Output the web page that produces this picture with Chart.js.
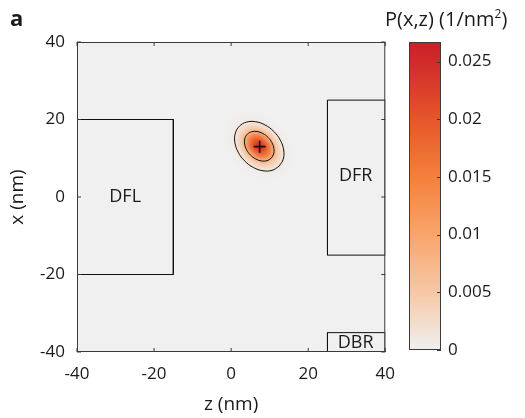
<!DOCTYPE html>
<html>
<head>
<meta charset="utf-8">
<script src="https://cdn.jsdelivr.net/npm/chart.js@4.4.0/dist/chart.umd.min.js"></script>
<style>
body { margin: 0; background: #fff; }
#wrap { position: relative; width: 525px; height: 418px; font-family: "Open Sans", sans-serif; color: #1a1a1a; }
canvas { position: absolute; top: 0; }
#panel { position: absolute; left: 10px; top: 2px; font-weight: bold; font-size: 22px; }
#cbtitle { position: absolute; left: 385px; top: 5px; font-size: 20px; white-space: nowrap; }
#cbtitle span { font-size: 12px; position: relative; top: -8px; }
</style>
</head>
<body>
<div id="wrap">
  <canvas id="main" width="407" height="418" style="left:0"></canvas>
  <canvas id="cbar" width="125" height="418" style="left:400px"></canvas>
  <div id="panel">a</div>
  <div id="cbtitle">P(x,z) (1/nm<span>2</span>)</div>
</div>
<script>
// axes
const zRange = [-40, 40];
const xRange = [-40, 40];
const cbMax = 0.0267;

// colormap
const cmapValues = [0, 0.005, 0.01, 0.015, 0.02, 0.025, 0.0267];
const cmapColors = ['#f0f0f0', '#f6c8a6', '#f8a56c', '#f4803b', '#e5562a', '#d02b29', '#ca2029'];

// density grid P(x,z), 2 nm spacing around the peak
const zGrid = [-2.7, -0.7, 1.3, 3.3, 5.3, 7.3, 9.3, 11.3, 13.3, 15.3, 17.3];
const xGrid = [23.1, 21.1, 19.1, 17.1, 15.1, 13.1, 11.1, 9.1, 7.1, 5.1, 3.1];
const density = [
  [0, 0, 0, 0, 0, 0, 0, 0, 0, 0, 0],
  [0, 0.00001, 0.00005, 0.00013, 0.00016, 0.0001, 0.00003, 0, 0, 0, 0],
  [0, 0.00005, 0.00033, 0.0010, 0.00152, 0.00115, 0.00043, 0.00008, 0, 0, 0],
  [0.00001, 0.00013, 0.0010, 0.00376, 0.0070, 0.0066, 0.00305, 0.0007, 0.00008, 0, 0],
  [0.00001, 0.00016, 0.00152, 0.0070, 0.0163, 0.0187, 0.0107, 0.00305, 0.00043, 0.00003, 0],
  [0, 0.0001, 0.00115, 0.0066, 0.0187, 0.0265, 0.0187, 0.0066, 0.00115, 0.0001, 0],
  [0, 0.00003, 0.00043, 0.00305, 0.0107, 0.0187, 0.0163, 0.0070, 0.00152, 0.00016, 0.00001],
  [0, 0, 0.00008, 0.0007, 0.00305, 0.0066, 0.0070, 0.00376, 0.0010, 0.00013, 0.00001],
  [0, 0, 0, 0.00008, 0.00043, 0.00115, 0.00152, 0.0010, 0.00033, 0.00005, 0],
  [0, 0, 0, 0, 0.00003, 0.0001, 0.00016, 0.00013, 0.00005, 0.00001, 0],
  [0, 0, 0, 0, 0, 0, 0, 0, 0, 0, 0]
];

// contour lines (z, x)
const outerZ = [12.46, 13.52, 13.63, 12.78, 11.09, 8.83, 6.33, 3.98, 2.14, 1.08, 0.97, 1.82, 3.51, 5.77, 8.27, 10.62, 12.46];
const outerX = [7.94, 9.78, 12.13, 14.63, 16.89, 18.58, 19.43, 19.32, 18.26, 16.42, 14.07, 11.57, 9.31, 7.62, 6.77, 6.88, 7.94];
const innerZ = [10.40, 11.04, 11.10, 10.59, 9.58, 8.22, 6.72, 5.30, 4.20, 3.56, 3.50, 4.01, 5.02, 6.38, 7.88, 9.30, 10.40];
const innerX = [10.00, 11.10, 12.52, 14.02, 15.38, 16.39, 16.90, 16.84, 16.20, 15.10, 13.68, 12.18, 10.82, 9.81, 9.30, 9.36, 10.00];

// mean position
const meanZ = [7.4];
const meanX = [13.0];

// regions
const regionNames = ['DFL', 'DFR', 'DBR'];
const regionZ = [[-40, -15, -15, -40], [40, 25, 25, 40], [40, 25, 25, 40]];
const regionX = [[20, 20, -20, -20], [25, 25, -15, -15], [-35, -35, -40, -40]];
const labelZ = [-27.5, 32.3, 32.3];
const labelX = [0, 5.5, -37.6];

const FONT = '"Open Sans", sans-serif';
const INK = '#1a1a1a';

function hexRgb(h) {
  return [parseInt(h.slice(1, 3), 16), parseInt(h.slice(3, 5), 16), parseInt(h.slice(5, 7), 16)];
}
function colormap(v) {
  if (v <= cmapValues[0]) return hexRgb(cmapColors[0]);
  for (let i = 1; i < cmapValues.length; i++) {
    if (v <= cmapValues[i]) {
      const t = (v - cmapValues[i - 1]) / (cmapValues[i] - cmapValues[i - 1]);
      const a = hexRgb(cmapColors[i - 1]), b = hexRgb(cmapColors[i]);
      return a.map((c, k) => Math.round(c + (b[k] - c) * t));
    }
  }
  return hexRgb(cmapColors[cmapColors.length - 1]);
}
function pairs(zs, xs) {
  return zs.map((z, i) => ({x: z, y: xs[i]}));
}

function innerTicks(ctx, scale, area, horizontal, len) {
  scale.ticks.forEach(t => {
    const p = scale.getPixelForValue(t.value);
    ctx.beginPath();
    if (horizontal) {
      ctx.moveTo(p, area.bottom); ctx.lineTo(p, area.bottom - len);
      ctx.moveTo(p, area.top); ctx.lineTo(p, area.top + len);
    } else {
      ctx.moveTo(area.left, p); ctx.lineTo(area.left + len, p);
      ctx.moveTo(area.right, p); ctx.lineTo(area.right - len, p);
    }
    ctx.stroke();
  });
}

const heatPlugin = {
  id: 'heat',
  beforeDatasetsDraw(chart) {
    const {ctx, chartArea: a, scales: {x, y}} = chart;
    ctx.save();
    ctx.fillStyle = cmapColors[0];
    ctx.fillRect(a.left, a.top, a.width, a.height);
    const off = document.createElement('canvas');
    off.width = zGrid.length;
    off.height = xGrid.length;
    const octx = off.getContext('2d');
    const img = octx.createImageData(off.width, off.height);
    for (let r = 0; r < xGrid.length; r++) {
      for (let c = 0; c < zGrid.length; c++) {
        const col = colormap(density[r][c]);
        const k = (r * off.width + c) * 4;
        img.data[k] = col[0]; img.data[k + 1] = col[1]; img.data[k + 2] = col[2]; img.data[k + 3] = 255;
      }
    }
    octx.putImageData(img, 0, 0);
    const dz = zGrid[1] - zGrid[0], dx = xGrid[0] - xGrid[1];
    const left = x.getPixelForValue(zGrid[0] - dz / 2);
    const right = x.getPixelForValue(zGrid[zGrid.length - 1] + dz / 2);
    const top = y.getPixelForValue(xGrid[0] + dx / 2);
    const bottom = y.getPixelForValue(xGrid[xGrid.length - 1] - dx / 2);
    ctx.beginPath();
    ctx.rect(a.left, a.top, a.width, a.height);
    ctx.clip();
    ctx.imageSmoothingEnabled = true;
    ctx.imageSmoothingQuality = 'high';
    ctx.drawImage(off, left, top, right - left, bottom - top);
    ctx.restore();
  },
  afterDatasetsDraw(chart) {
    const {ctx, chartArea: a, scales: {x, y}} = chart;
    ctx.save();
    ctx.fillStyle = INK;
    ctx.font = '18px ' + FONT;
    ctx.textAlign = 'center';
    ctx.textBaseline = 'middle';
    regionNames.forEach((n, i) => {
      ctx.fillText(n, x.getPixelForValue(labelZ[i]), y.getPixelForValue(labelX[i]));
    });
    ctx.strokeStyle = '#3a3a3a';
    ctx.lineWidth = 1;
    ctx.strokeRect(a.left + 0.5, a.top + 0.5, a.width - 1, a.height - 1);
    innerTicks(ctx, x, a, true, 4);
    innerTicks(ctx, y, a, false, 4);
    ctx.restore();
  }
};

const lineDs = (data, extra) => Object.assign({
  data: data,
  showLine: true,
  borderColor: '#111',
  borderWidth: 1,
  pointRadius: 0,
  fill: false
}, extra || {});

const datasets = regionNames.map((n, i) => lineDs(pairs(regionZ[i].concat(regionZ[i][0]), regionX[i].concat(regionX[i][0]))));
datasets.push(lineDs(pairs(outerZ, outerX), {tension: 0.4}));
datasets.push(lineDs(pairs(innerZ, innerX), {tension: 0.4}));
datasets.push({
  data: pairs(meanZ, meanX),
  pointStyle: 'cross',
  pointRadius: 6,
  borderColor: '#111',
  borderWidth: 1.6,
  showLine: false
});

new Chart(document.getElementById('main'), {
  type: 'scatter',
  data: {datasets: datasets},
  plugins: [heatPlugin],
  options: {
    responsive: false,
    animation: false,
    devicePixelRatio: 1,
    layout: {padding: {left: 0, top: 42, right: 8, bottom: 0}},
    plugins: {legend: {display: false}, tooltip: {enabled: false}},
    scales: {
      x: {
        type: 'linear', min: zRange[0], max: zRange[1],
        grid: {display: false, drawTicks: false},
        border: {display: false},
        ticks: {stepSize: 20, padding: 12, color: INK, font: {family: FONT, size: 17}},
        title: {display: true, text: 'z (nm)', color: INK, font: {family: FONT, size: 19}, padding: {top: 0, bottom: 2}},
        afterFit(s) { s.height = 66; }
      },
      y: {
        type: 'linear', min: xRange[0], max: xRange[1],
        grid: {display: false, drawTicks: false},
        border: {display: false},
        ticks: {stepSize: 20, padding: 12, color: INK, font: {family: FONT, size: 17}},
        title: {display: true, text: 'x (nm)', color: INK, font: {family: FONT, size: 19}, padding: {top: 6, bottom: 0}},
        afterFit(s) { s.width = 77; }
      }
    }
  }
});

// colorbar
const cbarPlugin = {
  id: 'cbarFill',
  beforeDatasetsDraw(chart) {
    const {ctx, chartArea: a, scales: {y}} = chart;
    ctx.save();
    const g = ctx.createLinearGradient(0, a.bottom, 0, a.top);
    cmapValues.forEach((v, i) => {
      const p = (y.getPixelForValue(v) - a.bottom) / (a.top - a.bottom);
      g.addColorStop(Math.min(1, Math.max(0, p)), cmapColors[i]);
    });
    ctx.fillStyle = g;
    ctx.fillRect(a.left, a.top, a.width, a.height);
    ctx.strokeStyle = '#3a3a3a';
    ctx.lineWidth = 1;
    ctx.strokeRect(a.left + 0.5, a.top + 0.5, a.width - 1, a.height - 1);
    y.ticks.forEach(t => {
      const p = Math.round(y.getPixelForValue(t.value)) + 0.5;
      ctx.beginPath();
      ctx.moveTo(a.right, p);
      ctx.lineTo(a.right - 4, p);
      ctx.stroke();
    });
    ctx.restore();
  }
};

new Chart(document.getElementById('cbar'), {
  type: 'scatter',
  data: {datasets: []},
  plugins: [cbarPlugin],
  options: {
    responsive: false,
    animation: false,
    devicePixelRatio: 1,
    layout: {padding: {left: 9, top: 42, right: 0, bottom: 68}},
    plugins: {legend: {display: false}, tooltip: {enabled: false}},
    scales: {
      x: {display: false, min: 0, max: 1},
      y: {
        type: 'linear', position: 'right', min: 0, max: cbMax,
        grid: {display: false, drawTicks: false},
        border: {display: false},
        ticks: {
          stepSize: 0.005, includeBounds: false, padding: 7, color: INK,
          font: {family: FONT, size: 17},
          callback: v => String(+v.toFixed(3))
        },
        afterFit(s) { s.width = 84; }
      }
    }
  }
});
</script>
</body>
</html>
